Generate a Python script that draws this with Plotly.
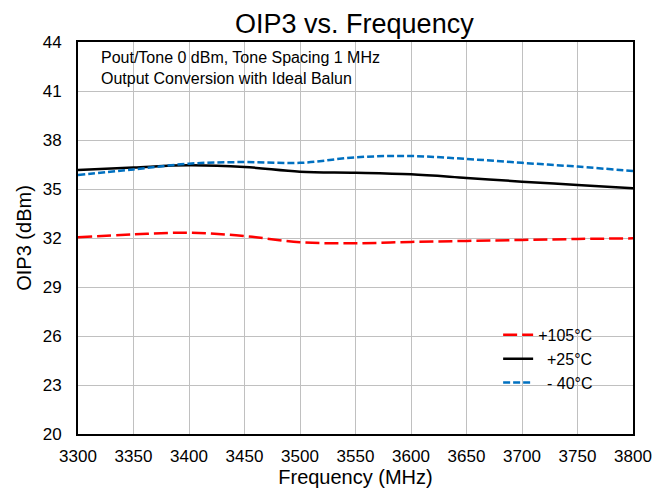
import plotly.graph_objects as go

freq = [3300, 3350, 3400, 3450, 3500, 3550, 3600, 3650, 3700, 3750, 3800]
oip3_105 = [32.04, 32.22, 32.32, 32.12, 31.74, 31.68, 31.76, 31.82, 31.88, 31.94, 31.98]
oip3_25 = [36.17, 36.32, 36.45, 36.35, 36.06, 36.0, 35.9, 35.68, 35.45, 35.25, 35.04]
oip3_m40 = [35.86, 36.2, 36.55, 36.65, 36.6, 36.94, 37.02, 36.84, 36.6, 36.37, 36.1]
y_ticks = [20, 23, 26, 29, 32, 35, 38, 41, 44]
x_ticks = list(range(3300, 3801, 50))

font = "Liberation Sans, Arial, sans-serif"
fig = go.Figure()
fig.add_trace(go.Scatter(x=freq, y=oip3_105, mode="lines", name="+105°C",
                         line=dict(color="#ff0000", width=2.5, dash="14px,5px", shape="spline")))
fig.add_trace(go.Scatter(x=freq, y=oip3_25, mode="lines", name="\u00a0\u00a0+25°C",
                         line=dict(color="#000000", width=2.5, shape="spline")))
fig.add_trace(go.Scatter(x=freq, y=oip3_m40, mode="lines", name="\u00a0\u00a0- 40°C",
                         line=dict(color="#0070c0", width=2.5, dash="7px,3px", shape="spline")))

fig.update_layout(
    width=661, height=485,
    margin=dict(l=70, r=36, t=34, b=59, autoexpand=False),
    paper_bgcolor="white", plot_bgcolor="white",
    font=dict(family=font, color="#000000", size=17),
    title=dict(text="OIP3 vs. Frequency", x=0.524, xanchor="center", xref="container",
               y=0.987, yref="container", yanchor="top", pad=dict(t=0, b=0),
               font=dict(size=27)),
    xaxis=dict(range=[3300, 3800], tickvals=x_ticks, showgrid=True, gridcolor="#c0c0c0", gridwidth=1,
               showline=True, linecolor="black", linewidth=2, mirror=True, zeroline=False,
               automargin=False, ticklabelstandoff=6,
               ticks="", title=dict(text="Frequency (MHz)", font=dict(size=20), standoff=5),
               tickfont=dict(size=17)),
    yaxis=dict(range=[20, 44], tickvals=y_ticks, showgrid=True, gridcolor="#c0c0c0", gridwidth=1,
               showline=True, linecolor="black", linewidth=2, mirror=True, zeroline=False,
               automargin=False, ticklabelstandoff=11,
               ticks="", title=dict(text="OIP3 (dBm)", font=dict(size=20), standoff=6),
               tickfont=dict(size=17)),
    legend=dict(x=0.757, y=0.296, xanchor="left", yanchor="top", bgcolor="rgba(255,255,255,0)",
                font=dict(size=16), itemwidth=30),
    showlegend=True,
    annotations=[dict(text="Pout/Tone 0 dBm, Tone Spacing 1 MHz<br>Output Conversion with Ideal Balun",
                      xref="paper", yref="paper", x=0.038, y=0.9885, xanchor="left", yanchor="top",
                      showarrow=False, align="left", font=dict(size=16))],
)
fig.write_html("out.html")
